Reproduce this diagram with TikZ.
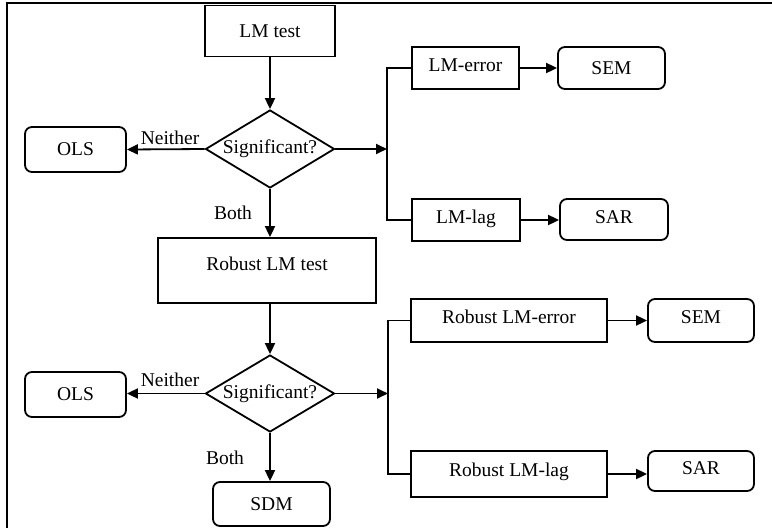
\documentclass[tikz,border=0pt]{standalone}
\usepackage{fontspec}
\setmainfont{Liberation Serif}
\usetikzlibrary{shapes.geometric,arrows.meta}
\begin{document}
\begin{tikzpicture}[x=1pt,y=-1pt,
  every node/.style={font=\fontsize{19.5}{22}\selectfont, inner sep=0pt},
  rectbox/.style={draw, line width=1.8pt},
  rbox/.style={draw, line width=1.8pt, rounded corners=7pt},
  dia/.style={draw, line width=1.8pt, diamond, minimum width=129pt, minimum height=78pt},
  conn/.style={line width=1.8pt},
  arr/.style={line width=1.8pt, -{Triangle[length=11pt,width=10pt]}},
  lbl/.style={}]
\useasboundingbox (0,0) rectangle (772,528);
\draw[line width=2.2pt] (7,528) -- (7,3) -- (772,3);

% top block
\node[rectbox, minimum width=130pt, minimum height=51pt] (lmt) at (270,31) {LM test};
\node[dia] (d1) at (270,149) {\makebox[0pt]{\raisebox{2pt}{Significant?}}};
\node[rbox, minimum width=101pt, minimum height=45pt] (ols1) at (75.5,149.5) {OLS};
\node[rectbox, minimum width=107pt, minimum height=42pt, text height=14pt, text depth=8pt] (lmerr) at (465.5,68) {LM-error};
\node[rbox, minimum width=107pt, minimum height=42pt] (sem1) at (611.5,68) {SEM};
\node[rectbox, minimum width=108pt, minimum height=42pt, text height=14pt, text depth=7pt] (lmlag) at (466,220) {LM-lag};
\node[rbox, minimum width=108pt, minimum height=41pt, text height=14pt, text depth=7pt] (sar1) at (614,219.5) {SAR};
\coordinate (j1) at (387,149);
\node[lbl] (n1) at (170,138) {Neither};
\node[lbl] (b1) at (233,213) {Both};

% bottom block
\node[rectbox, minimum width=218pt, minimum height=65pt, text height=14pt, text depth=14pt] (rlmt) at (267,270.5) {Robust LM test};
\node[dia, minimum height=77pt] (d2) at (270,393.5) {\makebox[0pt]{\raisebox{2pt}{Significant?}}};
\node[rbox, minimum width=101pt, minimum height=45pt] (ols2) at (75.5,394.5) {OLS};
\node[rbox, minimum width=117pt, minimum height=44pt] (sdm) at (271.5,504) {SDM};
\node[rectbox, minimum width=196pt, minimum height=43pt, text height=14pt, text depth=8pt] (rlmerr) at (509,320.5) {Robust LM-error};
\node[rbox, minimum width=106pt, minimum height=43pt, text height=14pt, text depth=8pt] (sem2) at (701,320.5) {SEM};
\node[rectbox, minimum width=196pt, minimum height=46pt, text height=14pt, text depth=10pt] (rlmlag) at (509,474) {Robust LM-lag};
\node[rbox, minimum width=106pt, minimum height=40pt, text height=14pt, text depth=7pt] (sar2) at (701,471) {SAR};
\coordinate (j2) at (388,393.5);
\node[lbl] (n2) at (170,380) {Neither};
\node[lbl] (b2) at (225,458) {Both};

% connectors top
\draw[arr] (lmt.south) -- (d1.north);
\draw[arr] (d1.west) -- (ols1.east);
\draw[arr] (d1.east) -- (j1);
\draw[conn] (lmerr.west) -| (j1) |- (lmlag.west);
\draw[arr] (lmerr.east) -- (sem1.west);
\draw[arr] (lmlag.east) -- (sar1.west |- lmlag.east);
\draw[arr] (d1.south) -- (rlmt.north -| d1.south);

% connectors bottom
\draw[arr] (rlmt.south -| d2.north) -- (d2.north);
\draw[arr] (d2.west) -- (ols2.east |- d2.west);
\draw[arr] (d2.east) -- (j2);
\draw[conn] (rlmerr.west) -| (j2) |- (rlmlag.west);
\draw[arr] (rlmerr.east) -- (sem2.west);
\draw[arr] (rlmlag.east) -- (sar2.west |- rlmlag.east);
\draw[arr] (d2.south) -- (sdm.north -| d2.south);
\end{tikzpicture}
\end{document}
